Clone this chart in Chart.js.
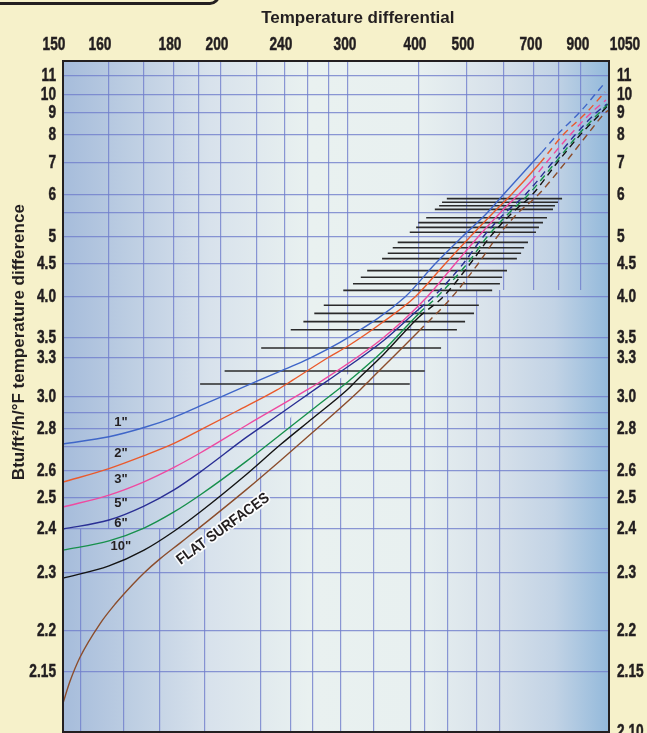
<!DOCTYPE html>
<html>
<head>
<meta charset="utf-8">
<script src="https://cdn.jsdelivr.net/npm/chart.js@4.4.1/dist/chart.umd.min.js"></script>
<style>
  html, body { margin: 0; padding: 0; background: #f6f1ca; overflow: hidden; }
  #wrap { position: relative; width: 647px; height: 745px; }
  #tab { position: absolute; left: -12px; top: -19px; width: 226px; height: 18px;
         border: 3px solid #231f20; border-radius: 10px; }
  canvas { display: block; }
</style>
</head>
<body>
<div id="wrap"><canvas id="chart" width="647" height="745"></canvas><div id="tab"></div></div>
<script>
// tick labels
const xLabelValues = [150, 160, 180, 200, 240, 300, 400, 500, 700, 900, 1050];
const yLabelValues = [11, 10, 9, 8, 7, 6, 5, 4.5, 4, 3.5, 3.3, 3, 2.8, 2.6, 2.5, 2.4, 2.3, 2.2, 2.15, 2.1];
const yLabelText = ['11', '10', '9', '8', '7', '6', '5', '4.5', '4.0', '3.5', '3.3', '3.0', '2.8', '2.6', '2.5', '2.4', '2.3', '2.2', '2.15', '2.10'];

// curves: temperature differential -> Btu/ft2/h/F
const pipe1X = [150, 160, 170, 180, 190.5, 208.9, 222.1, 240, 260, 300, 380.3, 433.3, 489.6, 554.1, 597.3, 693.3, 730, 792, 895.5, 1018];
const pipe1Y = [2.717, 2.757, 2.809, 2.873, 2.944, 3.054, 3.131, 3.215, 3.292, 3.505, 4.0, 4.5, 5.0, 5.5, 6.0, 7.0, 7.37, 8.0, 9.056, 10.53];
const pipe2X = [150, 160, 170, 180, 190.5, 208.9, 234.3, 247, 280, 300, 349.3, 394.4, 454.2, 508.1, 570.3, 623.3, 724, 818.2, 932.1, 1028.6];
const pipe2Y = [2.559, 2.61, 2.664, 2.72, 2.794, 2.9125, 3.054, 3.131, 3.31, 3.42, 3.695, 4.0, 4.5, 5.0, 5.5, 6.0, 7.0, 8.0, 9.056, 10.16];
const pipe3X = [150, 160, 170, 180, 190.5, 214.4, 259.1, 271.4, 349.3, 416.7, 475, 529.7, 589.2, 646.7, 690, 748, 850, 958.9, 1033.9];
const pipe3Y = [2.471, 2.511, 2.56, 2.615, 2.675, 2.825, 3.054, 3.115, 3.5, 4.0, 4.5, 5.0, 5.5, 6.0, 6.43, 7.0, 8.0, 9.056, 9.72];
const pipe5X = [150, 160, 170, 180, 190.5, 214.4, 236.4, 271.4, 284.2, 349.3, 400, 429.2, 491.7, 543.2, 603.3, 670, 772, 872.7, 985.7, 1039.3];
const pipe5Y = [2.4, 2.429, 2.474, 2.53, 2.596, 2.756, 2.894, 3.085, 3.154, 3.47, 3.854, 4.0, 4.5, 5.0, 5.5, 6.0, 7.0, 8.0, 9.056, 9.5];
const pipe6X = [150, 160, 170, 180, 190.5, 214.4, 236.4, 264.8, 291.6, 302.8, 349.3, 400, 437.5, 500, 554.1, 616.7, 680, 784, 886.4, 1001.8, 1044.6];
const pipe6Y = [2.352, 2.373, 2.403, 2.455, 2.511, 2.642, 2.767, 2.925, 3.069, 3.131, 3.37, 3.8, 4.0, 4.5, 5.0, 5.5, 6.0, 7.0, 8.0, 9.056, 9.5];
const pipe10X = [150, 160, 170, 180, 190.5, 214.4, 236.4, 264.8, 298.9, 312.7, 349.3, 400, 450, 508.1, 562.2, 626.7, 693.3, 792, 895.5, 1012.5, 1050];
const pipe10Y = [2.291, 2.316, 2.352, 2.395, 2.455, 2.589, 2.711, 2.869, 3.054, 3.131, 3.33, 3.756, 4.0, 4.5, 5.0, 5.5, 6.0, 7.0, 8.0, 9.056, 9.5];
const flatX = [150, 151.5, 153.7, 158, 161.7, 166.9, 170, 175.3, 182.4, 190.5, 214.4, 236.4, 264.8, 316.9, 331, 400, 468.8, 529.7, 581.1, 646.7, 716, 827.3, 932.1, 1033.9, 1050];
const flatY = [2.124, 2.142, 2.168, 2.212, 2.246, 2.281, 2.3, 2.332, 2.368, 2.406, 2.533, 2.642, 2.783, 3.054, 3.131, 3.585, 4.0, 4.5, 5.0, 5.5, 6.0, 7.0, 8.0, 9.056, 9.17];

// curves become dashed from this temperature differential on
const dashFrom = [730, 724, 690, 400, 400, 400, 400];

// horizontal bars
const barLevel = [3.1, 3.2, 3.4, 3.6, 3.7, 3.8, 3.9, 4.1, 4.2, 4.3, 4.4, 4.6, 4.7, 4.8, 4.9, 5.1, 5.2, 5.3, 5.4, 5.6, 5.7, 5.8, 5.9];
const barFrom = [190.5, 202, 223, 245, 256, 266, 275, 295, 307, 318, 327, 348, 356, 363, 370, 387, 396, 399, 415, 433, 442, 448, 458];
const barTo = [387, 412, 446, 479, 496, 519, 532, 568, 589, 595, 610, 643, 657, 667, 680, 708, 720, 736, 752, 776, 784, 796, 814];

// curve labels
const curveNames = ['1"', '2"', '3"', '5"', '6"', '10"'];
const curveNameY = [2.84, 2.675, 2.567, 2.484, 2.419, 2.361];
const curveNameX = 163.4;
const flatName = 'FLAT SURFACES';

const seriesX = [pipe1X, pipe2X, pipe3X, pipe5X, pipe6X, pipe10X, flatX];
const seriesY = [pipe1Y, pipe2Y, pipe3Y, pipe5Y, pipe6Y, pipe10Y, flatY];
const colors = ['#3f66c8', '#ea5a2c', '#ef4aa0', '#2a2f94', '#17904c', '#141414', '#8b4d2c'];

const ink = '#231f20';
const sans = "'Liberation Sans', Arial, sans-serif";

// nonlinear axis: value -> fraction of axis length, linear between breaks
class BreakScale extends Chart.Scale {
  static id = 'breaks';
  static defaults = {};
  determineDataLimits() {
    const b = this.options.breaks;
    this.min = b[0][0];
    this.max = b[b.length - 1][0];
  }
  buildTicks() {
    return this.options.tickValues.map(v => ({ value: v }));
  }
  getLabelForValue(v) { return String(v); }
  frac(v) {
    const b = this.options.breaks;
    let i = 1;
    while (i < b.length - 1 && v > b[i][0]) i++;
    const v0 = b[i - 1][0], f0 = b[i - 1][1], v1 = b[i][0], f1 = b[i][1];
    return f0 + (v - v0) / (v1 - v0) * (f1 - f0);
  }
  getPixelForValue(v) {
    const f = this.frac(v);
    return this.isHorizontal() ? this.left + f * this.width : this.bottom - f * this.height;
  }
  getValueForPixel(p) {
    const f = this.isHorizontal() ? (p - this.left) / this.width : (this.bottom - p) / this.height;
    const b = this.options.breaks;
    let i = 1;
    while (i < b.length - 1 && f > b[i][1]) i++;
    const v0 = b[i - 1][0], f0 = b[i - 1][1], v1 = b[i][0], f1 = b[i][1];
    return v0 + (f - f0) / (f1 - f0) * (v1 - v0);
  }
  // condensed tick labels
  drawLabels(area) {
    const sx = this.options.labelStretch;
    if (!sx) return super.drawLabels(area);
    const ctx = this.ctx;
    this.getLabelItems(area).forEach(item => {
      const o = item.options;
      ctx.save();
      ctx.translate(o.translation[0], o.translation[1]);
      ctx.scale(sx, 1);
      ctx.font = item.font.string;
      ctx.fillStyle = o.color;
      ctx.strokeStyle = o.color;
      ctx.lineWidth = 0.5;
      ctx.textAlign = o.textAlign;
      ctx.textBaseline = o.textBaseline;
      ctx.fillText(item.label, 0, item.textOffset);
      ctx.strokeText(item.label, 0, item.textOffset);
      ctx.restore();
    });
  }
  drawGrid(area) {
    const region = this.options.gridRegion;
    if (!region) return super.drawGrid(area);
    const xs = this.chart.scales.x, ys = this.chart.scales.y, ctx = this.ctx;
    const split = this.options.gridSplit;
    ctx.save();
    ctx.beginPath();
    ctx.moveTo(area.left - 3, ys.getPixelForValue(split[0][1]));
    split.forEach(p => ctx.lineTo(xs.getPixelForValue(p[0]), ys.getPixelForValue(p[1])));
    ctx.lineTo(area.right + 3, ys.getPixelForValue(split[split.length - 1][1]));
    const edge = region === 'upper' ? area.top - 3 : area.bottom + 3;
    ctx.lineTo(area.right + 3, edge);
    ctx.lineTo(area.left - 3, edge);
    ctx.closePath();
    ctx.clip();
    super.drawGrid(area);
    ctx.restore();
  }
}
Chart.register(BreakScale);

const xBreaks = [[150, 0], [160, 0.0842], [170, 0.1484], [180, 0.2033], [190, 0.2491], [200, 0.2894],
  [220, 0.3553], [240, 0.4066], [260, 0.4487], [280, 0.4872], [300, 0.522], [400, 0.652], [500, 0.7399],
  [600, 0.8077], [700, 0.8626], [800, 0.9084], [900, 0.9487], [1050, 1]];
const xLabelBreaks = [[150, -0.0165], [160, 0.0678], [180, 0.196], [200, 0.282], [240, 0.399], [300, 0.5165],
  [400, 0.6447], [500, 0.7326], [700, 0.857], [900, 0.9432], [1050, 1.0293]];
const yBreaks = [[2.1, 0], [2.15, 0.0894], [2.2, 0.1505], [2.3, 0.237], [2.4, 0.3025], [2.5, 0.3487],
  [2.6, 0.389], [2.7, 0.4247], [2.8, 0.4516], [2.9, 0.4754], [3, 0.4993], [3.3, 0.5574], [3.5, 0.5872],
  [4, 0.6483], [4.5, 0.6975], [5, 0.7377], [5.5, 0.7735], [6, 0.8003], [7, 0.848], [8, 0.8897],
  [9, 0.9225], [10, 0.9493], [11, 0.9776], [11.8, 1]];
// where the upper grid gives way to the lower grid
const gridSplit = [[150, 2.4], [205, 2.4], [253, 2.98], [336.6, 3.285], [387.3, 3.634], [422.9, 4.106], [1050, 4.106]];

const fitTo = size => s => {
  if (s.isHorizontal()) s.height = size; else s.width = size;
  s.paddingLeft = s.paddingRight = s.paddingTop = s.paddingBottom = 0;
};
const gridLine = { color: 'rgba(112,126,204,0.8)', lineWidth: 1.2, drawTicks: false };
const tickFont = { family: sans, size: 18, weight: 'bold' };

const datasets = seriesX.map((xs, i) => ({
  data: xs.map((x, j) => ({ x: x, y: seriesY[i][j] })),
  borderColor: colors[i],
  borderWidth: 1.4,
  pointRadius: 0,
  fill: false,
  cubicInterpolationMode: 'monotone',
  segment: { borderDash: ctx => ctx.p0.parsed.x >= dashFrom[i] - 0.01 ? [7, 5] : undefined }
}));
barLevel.forEach((y, i) => datasets.push({
  data: [{ x: barFrom[i], y: y }, { x: barTo[i], y: y }],
  borderColor: '#2a2a2a',
  borderWidth: 1.6,
  pointRadius: 0,
  fill: false
}));

const plotBackground = {
  id: 'plotBackground',
  beforeDraw(chart) {
    const { ctx, chartArea: a } = chart;
    const g = ctx.createLinearGradient(a.left, 0, a.right, 0);
    g.addColorStop(0, '#a6bcdb');
    g.addColorStop(0.12, '#bccde2');
    g.addColorStop(0.27, '#d8e2ec');
    g.addColorStop(0.45, '#e9f1f0');
    g.addColorStop(0.65, '#e8f0f0');
    g.addColorStop(0.8, '#d6e0ea');
    g.addColorStop(0.9, '#c2d3e5');
    g.addColorStop(1, '#93b9db');
    ctx.save();
    ctx.fillStyle = g;
    ctx.fillRect(a.left, a.top, a.width, a.height);
    ctx.restore();
  }
};

const texts = {
  id: 'texts',
  afterDraw(chart) {
    const { ctx, chartArea: a, scales } = chart;
    ctx.save();
    ctx.strokeStyle = ink;
    ctx.lineWidth = 2;
    ctx.strokeRect(a.left, a.top, a.width, a.height);

    ctx.fillStyle = ink;
    ctx.textAlign = 'center';
    ctx.textBaseline = 'middle';
    ctx.font = 'bold 17px ' + sans;
    ctx.fillText('Temperature differential', a.left + 0.54 * a.width, 18);

    ctx.save();
    ctx.translate(a.left - 44, a.top + 0.419 * a.height);
    ctx.rotate(-Math.PI / 2);
    ctx.fillText('Btu/ft\u00b2/h/\u00b0F temperature difference', 0, 0);
    ctx.restore();

    ctx.font = 'bold 13px ' + sans;
    curveNames.forEach((t, i) => {
      ctx.fillText(t, scales.x.getPixelForValue(curveNameX), scales.y.getPixelForValue(curveNameY[i]));
    });

    ctx.save();
    ctx.translate(scales.x.getPixelForValue(201.1), scales.y.getPixelForValue(2.4));
    ctx.rotate(-36 * Math.PI / 180);
    ctx.scale(0.9, 1);
    ctx.font = 'bold 15px ' + sans;
    ctx.lineWidth = 3.5;
    ctx.strokeStyle = 'rgba(255,255,255,0.9)';
    ctx.lineJoin = 'round';
    ctx.strokeText(flatName, 0, 0);
    ctx.fillText(flatName, 0, 0);
    ctx.restore();
    ctx.restore();
  }
};

new Chart(document.getElementById('chart'), {
  type: 'line',
  data: { datasets: datasets },
  plugins: [plotBackground, texts],
  options: {
    responsive: false,
    animation: false,
    layout: { padding: { left: 0, right: 0, top: 0, bottom: 13 } },
    plugins: { legend: { display: false }, tooltip: { enabled: false } },
    scales: {
      x: {
        type: 'breaks', position: 'top', breaks: xBreaks,
        tickValues: [150, 160, 170, 180, 190, 200, 220, 240, 260, 280, 300, 400, 500, 600, 700, 800, 900, 1050],
        gridRegion: 'upper', gridSplit: gridSplit,
        grid: gridLine, border: { display: false },
        ticks: { display: false },
        afterFit: fitTo(0)
      },
      xLow: {
        type: 'breaks', position: 'top', breaks: xBreaks,
        tickValues: [153.9, 164.3, 175.3, 192.7, 222.9, 245.2, 264.8, 292.6, 336.6, 388.7, 412.5, 460.4, 527, 589],
        gridRegion: 'lower', gridSplit: gridSplit,
        grid: gridLine, border: { display: false },
        ticks: { display: false },
        afterFit: fitTo(0)
      },
      xTop: {
        type: 'breaks', position: 'top', breaks: xLabelBreaks, labelStretch: 0.76,
        tickValues: xLabelValues,
        grid: { display: false, drawTicks: false }, border: { display: false },
        ticks: { color: ink, font: tickFont, padding: 5, autoSkip: false, maxRotation: 0, minRotation: 0,
                 callback: v => String(v) },
        afterFit: fitTo(61)
      },
      y: {
        type: 'breaks', position: 'left', breaks: yBreaks, labelStretch: 0.76,
        tickValues: [2.15, 2.2, 2.3, 2.4, 2.5, 2.6, 2.7, 2.8, 2.9, 3, 3.3, 3.5, 4, 4.5, 5, 5.5, 6, 7, 8, 9, 10, 11],
        grid: gridLine, border: { display: false },
        ticks: { color: ink, font: tickFont, padding: 7, autoSkip: false,
                 callback: v => { const i = yLabelValues.indexOf(v); return i >= 0 ? yLabelText[i] : ''; } },
        afterFit: fitTo(63)
      },
      yR: {
        type: 'breaks', position: 'right', breaks: yBreaks, labelStretch: 0.76,
        tickValues: yLabelValues,
        grid: { display: false, drawTicks: false }, border: { display: false },
        ticks: { color: ink, font: tickFont, padding: 8, autoSkip: false,
                 callback: v => yLabelText[yLabelValues.indexOf(v)] },
        afterFit: fitTo(38)
      }
    }
  }
});
</script>
</body>
</html>
